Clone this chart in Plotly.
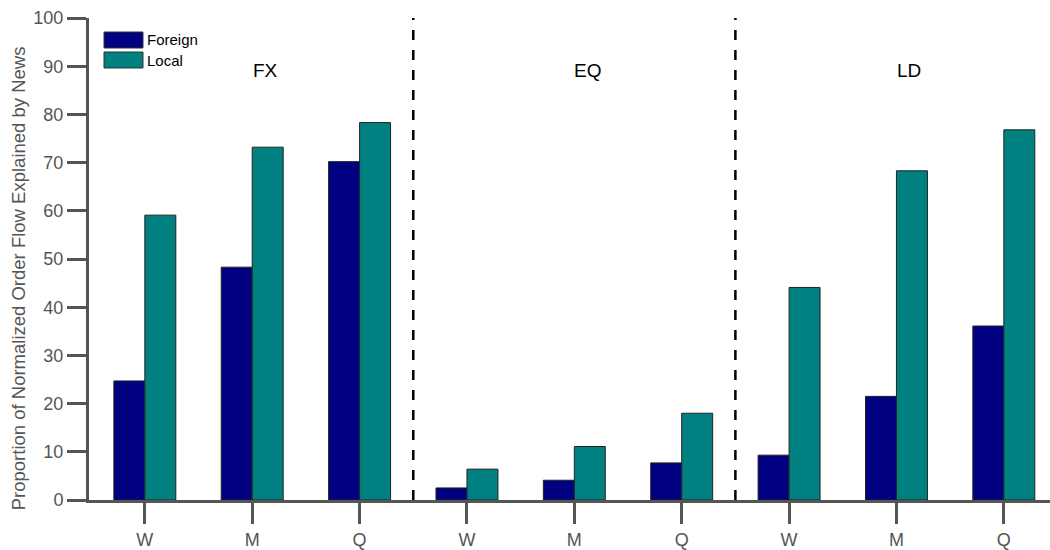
import plotly.graph_objects as go

# Horizon labels for each asset class block (FX, EQ, LD)
tick_labels = ["W", "M", "Q", "W", "M", "Q", "W", "M", "Q"]
groups = ["FX", "EQ", "LD"]

# Share of normalized order flow explained by news (%)
foreign = [24.7, 48.3, 70.2, 2.5, 4.1, 7.7, 9.3, 21.5, 36.1]
local = [59.1, 73.2, 78.3, 6.4, 11.1, 18.0, 44.1, 68.3, 76.8]

positions = list(range(len(tick_labels)))

NAVY = "#000080"
TEAL = "#008080"
AXIS = "#555555"
FONT = "Liberation Sans, Arial, sans-serif"

fig = go.Figure()
fig.add_trace(go.Bar(x=positions, y=foreign, name="Foreign",
                     marker=dict(color=NAVY, line=dict(color="#222222", width=1))))
fig.add_trace(go.Bar(x=positions, y=local, name="Local",
                     marker=dict(color=TEAL, line=dict(color="#222222", width=1))))

# dashed separators between asset-class blocks
for b in (2.5, 5.5):
    fig.add_shape(type="line", xref="x", yref="y", x0=b, x1=b, y0=0, y1=100,
                  line=dict(color="black", width=2.5, dash="10px,10px"), layer="above")

# block titles
for i, g in enumerate(groups):
    fig.add_annotation(x=3 * i + 1.12, y=89.2, xref="x", yref="y", text=g,
                       showarrow=False, font=dict(family=FONT, size=19, color="black"))

# legend drawn as boxed swatches
for k, (name, col) in enumerate([("Foreign", NAVY), ("Local", TEAL)]):
    y0 = 32 + 20 * k
    fig.add_shape(type="rect", xref="paper", yref="paper",
                  x0=(104 - 89) / 961, x1=(143 - 89) / 961,
                  y0=1 - (y0 + 16 - 18) / 482, y1=1 - (y0 - 18) / 482,
                  fillcolor=col, line=dict(color="#333333", width=1))
    fig.add_annotation(x=(145 - 89) / 961, y=1 - (y0 + 8 - 18) / 482,
                       xref="paper", yref="paper", text=name, showarrow=False,
                       xanchor="left", yanchor="middle",
                       font=dict(family=FONT, size=15, color="black"))

fig.add_annotation(x=-71 / 961, y=0.46, xref="paper", yref="paper",
                   text="Proportion of Normalized Order Flow Explained by News",
                   textangle=-90, showarrow=False, xanchor="center", yanchor="middle",
                   font=dict(family=FONT, size=18.5, color=AXIS))

fig.update_layout(
    width=1050, height=550,
    margin=dict(l=89, r=0, t=18, b=50),
    plot_bgcolor="white", paper_bgcolor="white",
    barmode="group", bargap=0.423, bargroupgap=0,
    showlegend=False,
    font=dict(family=FONT, size=18, color=AXIS),
    xaxis=dict(range=[-0.52, 8.43], tickmode="array", tickvals=positions,
               ticktext=tick_labels, ticks="outside", ticklen=21, tickwidth=3,
               tickcolor=AXIS, showline=True, linewidth=3, linecolor=AXIS,
               showgrid=False, zeroline=False, tickfont=dict(size=18, color=AXIS)),
    yaxis=dict(range=[0, 100], tickvals=list(range(0, 101, 10)), ticks="outside",
               ticklen=19, tickwidth=3, tickcolor=AXIS, showline=True, linewidth=3,
               linecolor=AXIS, showgrid=False, zeroline=False,
               tickfont=dict(size=18, color=AXIS)),
)

fig.write_html("out.html")
